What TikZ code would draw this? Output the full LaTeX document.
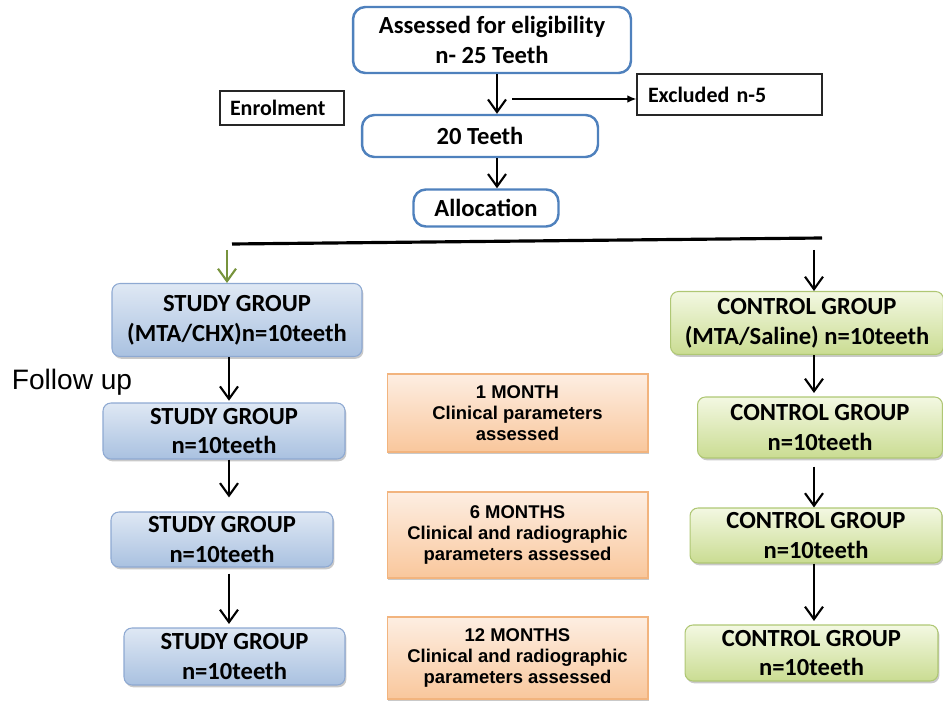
\documentclass[tikz,border=0pt]{standalone}
\usepackage{fontspec}
\setmainfont{Carlito}
\newfontfamily\arialfont{Liberation Sans}
\usepackage{tikz}
\usetikzlibrary{arrows.meta, shadows, positioning}

\definecolor{frameblue}{HTML}{4F81BD}
\definecolor{studytop}{HTML}{DFE8F4}
\definecolor{studybot}{HTML}{A9C1E0}
\definecolor{studyline}{HTML}{8EA9D2}
\definecolor{ctrltop}{HTML}{F3F8E2}
\definecolor{ctrlbot}{HTML}{CADC92}
\definecolor{ctrlline}{HTML}{AFC774}
\definecolor{monthtop}{HTML}{FDEEE2}
\definecolor{monthbot}{HTML}{F9C79C}
\definecolor{monthline}{HTML}{F2B47E}
\definecolor{arrowgreen}{HTML}{77933C}

\tikzset{
  boxfont/.style={font=\bfseries\fontsize{14}{17}\selectfont},
  topbox/.style={boxfont, draw=frameblue, line width=1.4pt, rounded corners=7pt,
    fill=white, align=center, inner sep=2pt},
  sidebox/.style={font=\bfseries\fontsize{12.5}{15}\selectfont, draw=black!85,
    line width=0.8pt, align=left, inner sep=0pt},
  groupbox/.style={boxfont, rounded corners=4.5pt, line width=0.6pt, align=center,
    inner sep=2pt, drop shadow={shadow xshift=0.8pt, shadow yshift=-1.3pt,
    opacity=0.3, fill=black!70}},
  studybox/.style={groupbox, draw=studyline, top color=studytop, bottom color=studybot},
  ctrlbox/.style={groupbox, draw=ctrlline, top color=ctrltop, bottom color=ctrlbot},
  monthbox/.style={font=\arialfont\bfseries\fontsize{10.5}{12}\selectfont,
    draw=monthline, line width=0.6pt, align=center, inner sep=2pt,
    top color=monthtop, bottom color=monthbot, minimum width=5.22cm,
    drop shadow={shadow xshift=0.8pt, shadow yshift=-1.3pt, opacity=0.3, fill=black!70}},
  arr/.style={-{Straight Barb[length=2.5mm, width=3.6mm]}, line width=1.2pt},
  thinarr/.style={-{Latex[length=1.8mm, width=1.5mm]}, line width=0.7pt}
}

\begin{document}
\begin{tikzpicture}[x=0.02cm, y=-0.02cm]
    \useasboundingbox (0,0) rectangle (943,702);

    % Enrolment
    \node[topbox, minimum width=5.56cm, minimum height=1.32cm] (assess) at (492,40)
        {Assessed for eligibility\\n- 25 Teeth};
    \node[topbox, minimum width=4.72cm, minimum height=0.84cm] (teeth) at (480,136) {20 Teeth};
    \node[topbox, minimum width=2.90cm, minimum height=0.74cm] (alloc) at (486,208) {Allocation};
    \node[sidebox, minimum height=0.68cm, text width=2.48cm] (enrol) at (282,108)
        {\hspace*{0.2cm}Enrolment};
    \node[sidebox, minimum height=0.82cm, text width=3.70cm] (excl) at (729.5,94.5)
        {\hspace*{0.22cm}Excluded n-5};

    \coordinate (topaxis) at (497,0);
    \coordinate (exclstart) at (512,99);
    \draw[arr] (assess.south -| topaxis) -- (teeth.north -| topaxis);
    \draw[arr] (teeth.south -| topaxis) -- (alloc.north -| topaxis);
    \draw[thinarr] (exclstart) -- (exclstart -| excl.west);

    % Allocation line
    \coordinate (splitL) at (232,244);
    \coordinate (splitR) at (822,238);
    \draw[line width=1.8pt] (splitL) -- (splitR);

    % Study group
    \node[studybox, minimum width=5.00cm, minimum height=1.46cm] (study1) at (237,320)
        {STUDY GROUP\\(MTA/CHX)n=10teeth};
    \node[studybox, minimum width=4.84cm, minimum height=1.12cm] (study2) at (224,431)
        {STUDY GROUP\\n=10teeth};
    \node[studybox, minimum width=4.44cm, minimum height=1.10cm] (study3) at (222,539.5)
        {STUDY GROUP\\n=10teeth};
    \node[studybox, minimum width=4.42cm, minimum height=1.14cm] (study4) at (234.5,656.5)
        {STUDY GROUP\\n=10teeth};

    % Control group
    \node[ctrlbox, minimum width=5.46cm, minimum height=1.26cm] (ctrl1) at (807,323)
        {CONTROL GROUP\\(MTA/Saline) n=10teeth};
    \node[ctrlbox, minimum width=4.90cm, minimum height=1.22cm] (ctrl2) at (820,427.5)
        {CONTROL GROUP\\n=10teeth};
    \node[ctrlbox, minimum width=5.04cm, minimum height=1.10cm] (ctrl3) at (816,535.5)
        {CONTROL GROUP\\n=10teeth};
    \node[ctrlbox, minimum width=5.06cm, minimum height=1.12cm] (ctrl4) at (811.5,653)
        {CONTROL GROUP\\n=10teeth};

    % Follow up
    \node[font=\arialfont\fontsize{16}{19}\selectfont] (follow) at (72,382) {Follow up};
    \node[monthbox, minimum height=1.56cm] (month1) at (517.5,413)
        {1 MONTH\\Clinical parameters\\assessed};
    \node[monthbox, minimum height=1.72cm] (month6) at (517.5,535)
        {6 MONTHS\\Clinical and radiographic\\parameters assessed};
    \node[monthbox, minimum height=1.64cm] (month12) at (517.5,658)
        {12 MONTHS\\Clinical and radiographic\\parameters assessed};

    \coordinate (studyaxis) at (229,0);
    \coordinate (ctrlaxis) at (814,0);
    \draw[arr, draw=arrowgreen] (227,250) -- (study1.north -| 227,0) ;
    \draw[arr] (splitR -| ctrlaxis) ++(0,12) -- (ctrl1.north -| ctrlaxis);
    \draw[arr, shorten >=1pt] (study1.south -| studyaxis) -- (study2.north -| studyaxis);
    \draw[arr, shorten >=8pt] (study2.south -| studyaxis) -- (study3.north -| studyaxis);
    \draw[arr, shorten >=2pt] (study3.south -| studyaxis) ++(0,6) -- (study4.north -| studyaxis);
    \draw[arr, shorten >=2pt] (ctrl1.south -| ctrlaxis) -- (ctrl2.north -| ctrlaxis);
    \draw[arr] (ctrl2.south -| ctrlaxis) ++(0,8) -- (ctrl3.north -| ctrlaxis);
    \draw[arr, shorten >=2pt] (ctrl3.south -| ctrlaxis) -- (ctrl4.north -| ctrlaxis);
\end{tikzpicture}
\end{document}
